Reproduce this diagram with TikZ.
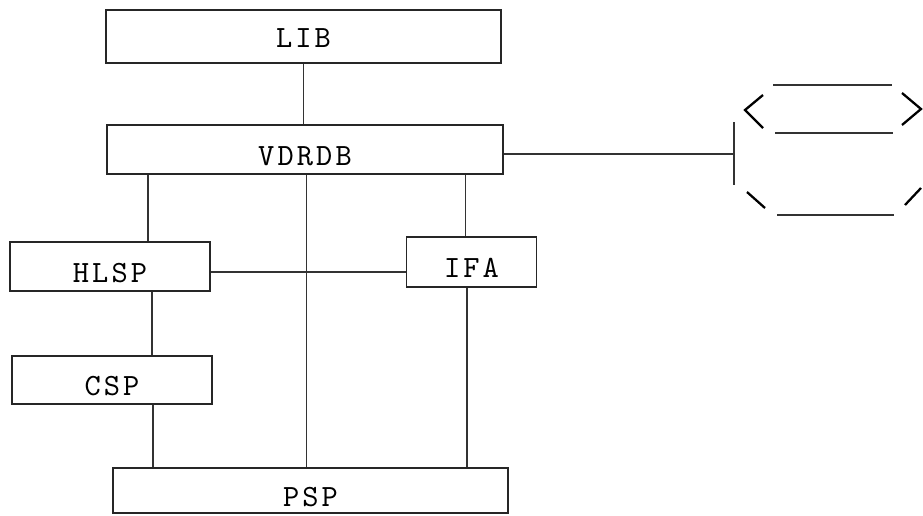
\documentclass[tikz,border=0pt]{standalone}
\usepackage{fontspec}
\usepackage{tikz}
\usetikzlibrary{calc}
\newfontfamily\boxfont[LetterSpace=10]{lmmono10-regular.otf}

\begin{document}
\begin{tikzpicture}[
    x=0.02cm, y=-0.02cm,
    font=\fontsize{17.6pt}{20pt}\boxfont,
    ln/.style={line width=0.6pt, draw=black!80},
    box/.style={draw=black!85, line width=0.7pt, inner sep=0pt, anchor=center},
    lowtext/.style={text height=0.62cm, text depth=0pt},
    chev/.style={line width=1.3pt, draw=black},
  ]
    \useasboundingbox (0,0) rectangle (923,515);

    % Boxes
    \node[box, text height=0.44cm, text depth=0pt, minimum width=7.9cm, minimum height=1.06cm] (lib) at (303.5,36.5) {LIB};
    \node[box, lowtext, minimum width=7.92cm, minimum height=0.98cm] (vdrdb) at (305,149.5) {VDRDB};
    \node[box, lowtext, minimum width=4.0cm, minimum height=0.98cm] (hlsp) at (110,266.5) {HLSP};
    \node[box, lowtext, minimum width=2.6cm, minimum height=1.0cm] (ifa) at (471.5,262) {IFA};
    \node[box, lowtext, minimum width=4.0cm, minimum height=0.96cm] (csp) at (112,380) {CSP};
    \node[box, lowtext, minimum width=7.9cm, minimum height=0.9cm] (psp) at (310.5,490.5) {PSP};

    % Connectors
    \draw[ln] (lib.south) -- (lib.south |- vdrdb.north);
    \draw[ln] ([xshift=0.76cm]hlsp.north) -- ([xshift=0.76cm]hlsp.north |- vdrdb.south);
    \draw[ln] ([xshift=0.8cm]csp.north) -- ([xshift=0.8cm]csp.north |- hlsp.south);
    \draw[ln] ([xshift=0.82cm]csp.south) -- ([xshift=0.82cm]csp.south |- psp.north);
    \draw[ln] ([xshift=-0.08cm]psp.north) -- ([xshift=-0.08cm]psp.north |- vdrdb.south);
    \draw[ln] ([xshift=-0.12cm]ifa.north) -- ([xshift=-0.12cm]ifa.north |- vdrdb.south);
    \draw[ln] ([xshift=-0.09cm]ifa.south) -- ([xshift=-0.09cm]ifa.south |- psp.north);
    \draw[ln] ([yshift=-0.11cm]hlsp.east) -- ([yshift=-0.11cm]hlsp.east -| ifa.west);

    % Link to store
    \coordinate (bartop) at (734,122);
    \coordinate (barbot) at (734,185);
    \draw[ln] (bartop) -- (barbot);
    \draw[ln] ([yshift=-0.09cm]vdrdb.east) -- ([yshift=-0.09cm]vdrdb.east -| bartop);

    % Store symbol
    \draw[ln] (773,85) -- (892,85);
    \draw[ln] (775,133) -- (893,133);
    \draw[ln] (777,215) -- (894,215);
    \draw[chev] (763,95) -- (745,110) -- (763,128);
    \draw[chev] (902,93) -- (921,109) -- (902,125);
    \draw[chev] (747,192) -- (765,208);
    \draw[chev] (905,205) -- (921,188);
\end{tikzpicture}
\end{document}
